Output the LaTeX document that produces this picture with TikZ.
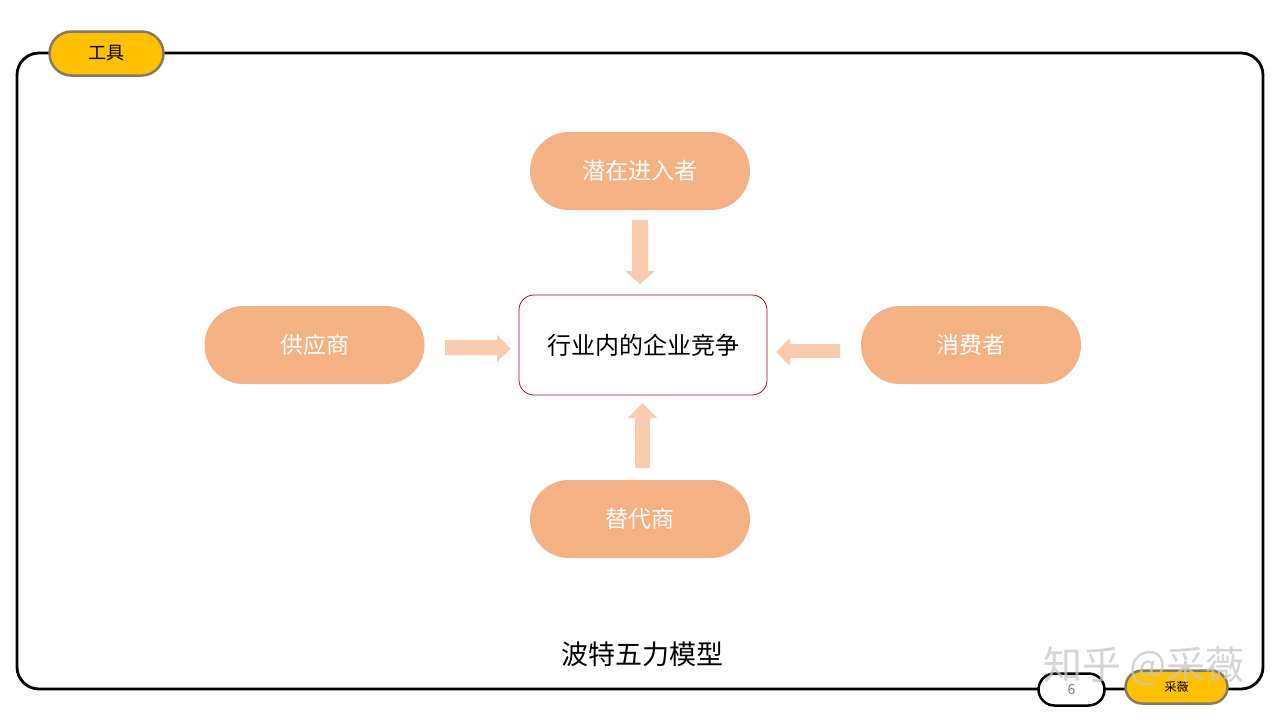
\documentclass[tikz,border=0pt]{standalone}
\usepackage{fontspec}
\setmainfont{Noto Sans CJK SC}
\usetikzlibrary{shapes.misc}
\definecolor{nodefill}{HTML}{F4B183}
\definecolor{arrfill}{HTML}{F8CBAD}
\definecolor{tabfill}{HTML}{FFC000}
\definecolor{tabline}{HTML}{857A62}
\definecolor{cborder}{HTML}{A0101E}
\tikzset{
  pill/.style={rounded rectangle, fill=nodefill, draw=none, text=white, font=\fontsize{23}{26}\selectfont, minimum width=220pt, minimum height=78pt, inner sep=0pt},
  tab/.style={rounded rectangle, fill=tabfill, draw=tabline, line width=2.5pt, inner sep=0pt},
  fatarrow/.style={fill=arrfill, draw=none},
}
\begin{document}
\begin{tikzpicture}[x=1pt,y=-1pt]
\useasboundingbox (0,0) rectangle (1280,720);
\fill[white] (0,0) rectangle (1280,720);
% frame
\draw[line width=2.8pt, rounded corners=22pt] (17,53) rectangle (1263,689);
% tab
\node[tab, minimum width=114pt, minimum height=44pt, font=\fontsize{18}{20}\selectfont] (tabtool) at (106.5,53.5) {工具};
% bottom pills
\node[rounded rectangle, fill=white, draw=black, line width=2.5pt, minimum width=66pt, minimum height=32pt, inner sep=0pt, text=gray, font=\fontsize{14}{16}\selectfont] (pagenum) at (1071.5,689.5) {6};
\node[tab, minimum width=102pt, minimum height=33pt, font=\fontsize{12}{14}\selectfont] (author) at (1176.5,687) {采薇};
% nodes
\node[pill] (top) at (640,171) {潜在进入者};
\node[pill] (left) at (314.5,345) {供应商};
\node[pill] (right) at (971,345) {消费者};
\node[pill] (bottom) at (640,519) {替代商};
\node[draw=cborder, line width=0.8pt, rounded corners=15pt, fill=white, minimum width=248pt, minimum height=100pt, inner sep=0pt, font=\fontsize{24}{27}\selectfont] (center) at (643,345) {行业内的企业竞争};
% fat arrows
\fill[fatarrow] (632,220) -- (648,220) -- (648,271) -- (655,271) -- (640,284) -- (625,271) -- (632,271) -- cycle;
\fill[fatarrow] (445,340) -- (497,340) -- (497,335) -- (511,348.5) -- (497,362) -- (497,355) -- (445,355) -- cycle;
\fill[fatarrow] (840,344) -- (790,344) -- (790,338) -- (776,352) -- (790,366) -- (790,358) -- (840,358) -- cycle;
\fill[fatarrow] (635,468) -- (650,468) -- (650,418) -- (657,418) -- (642.5,403) -- (628,418) -- (635,418) -- cycle;
% title
\node[font=\fontsize{27}{30}\selectfont] (title) at (642,654) {波特五力模型};
% watermark
\node[text=gray!45, opacity=0.75, font=\fontsize{39}{42}\selectfont, anchor=west, inner sep=0pt] (wm) at (1043,666) {知乎 @采薇};
\end{tikzpicture}
\end{document}
